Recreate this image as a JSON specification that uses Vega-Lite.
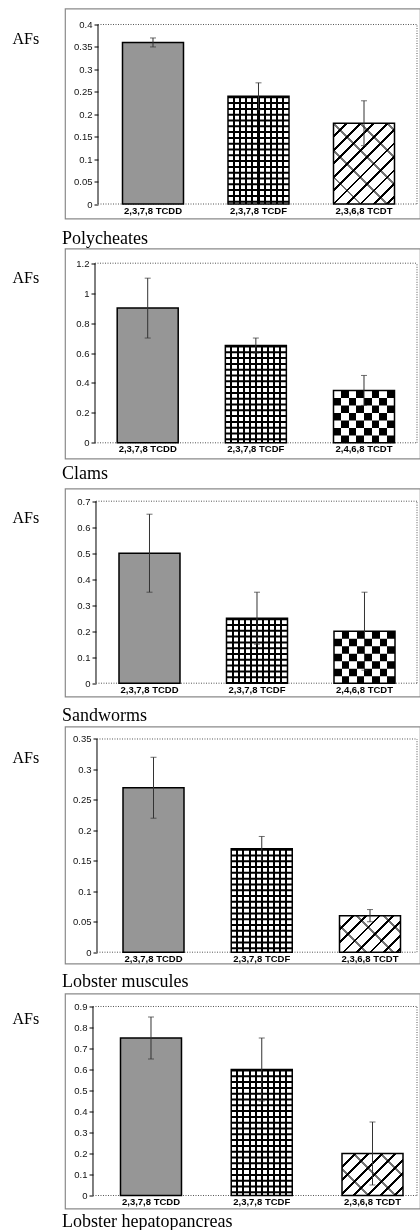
{
"$schema": "https://vega.github.io/schema/vega-lite/v6.json",
"background": "white",
"padding": {"left": 11, "top": 7.5, "right": 0, "bottom": 0},
"bounds": "flush",
"spacing": 30,
"datasets": {"afs": [
{"panel": "Polycheates", "compound": "2,3,7,8 TCDD", "af": 0.36, "lo": 0.35, "hi": 0.37},
{"panel": "Polycheates", "compound": "2,3,7,8 TCDF", "af": 0.24, "lo": 0.21, "hi": 0.27},
{"panel": "Polycheates", "compound": "2,3,6,8 TCDT", "af": 0.18, "lo": 0.13, "hi": 0.23},
{"panel": "Clams", "compound": "2,3,7,8 TCDD", "af": 0.9, "lo": 0.7, "hi": 1.1},
{"panel": "Clams", "compound": "2,3,7,8 TCDF", "af": 0.65, "lo": 0.6, "hi": 0.7},
{"panel": "Clams", "compound": "2,4,6,8 TCDT", "af": 0.35, "lo": 0.25, "hi": 0.45},
{"panel": "Sandworms", "compound": "2,3,7,8 TCDD", "af": 0.5, "lo": 0.35, "hi": 0.65},
{"panel": "Sandworms", "compound": "2,3,7,8 TCDF", "af": 0.25, "lo": 0.15, "hi": 0.35},
{"panel": "Sandworms", "compound": "2,4,6,8 TCDT", "af": 0.2, "lo": 0.05, "hi": 0.35},
{"panel": "Lobster muscules", "compound": "2,3,7,8 TCDD", "af": 0.27, "lo": 0.22, "hi": 0.32},
{"panel": "Lobster muscules", "compound": "2,3,7,8 TCDF", "af": 0.17, "lo": 0.15, "hi": 0.19},
{"panel": "Lobster muscules", "compound": "2,3,6,8 TCDT", "af": 0.06, "lo": 0.05, "hi": 0.07},
{"panel": "Lobster hepatopancreas", "compound": "2,3,7,8 TCDD", "af": 0.75, "lo": 0.65, "hi": 0.85},
{"panel": "Lobster hepatopancreas", "compound": "2,3,7,8 TCDF", "af": 0.6, "lo": 0.45, "hi": 0.75},
{"panel": "Lobster hepatopancreas", "compound": "2,3,6,8 TCDT", "af": 0.2, "lo": 0.05, "hi": 0.35}
]},
"config": {
"view": {"stroke": "#8a8a8a", "strokeWidth": 1.2},
"title": {"font": "Liberation Serif", "fontSize": 18, "fontWeight": "normal", "color": "#000", "orient": "bottom", "anchor": "start", "frame": "group", "baseline": "alphabetic", "dx": -3},
"axis": {"domain": false, "grid": false, "labelFont": "Liberation Sans"},
"axisY": {"labelFontSize": 9.5, "labelColor": "#111", "labelOverlap": false, "tickCount": 30, "tickColor": "#000", "tickSize": 4, "tickWidth": 1, "labelPadding": 2, "titleFont": "Liberation Serif", "titleFontSize": 16, "titleFontWeight": "normal", "titleAngle": 0, "titleAlign": "left", "titleBaseline": "alphabetic", "titleColor": "#000"},
"axisX": {"labelFontSize": 9.5, "labelFontWeight": "bold", "labelColor": "#000", "labelOverlap": false, "ticks": false, "tickSize": 0, "labelPadding": 1, "labelAngle": 0, "zindex": 1}
},
"vconcat": [
{
"width": 355, "height": 210,
"title": {"text": "Polycheates", "offset": -4.8},
"data": {"name": "afs"},
"transform": [{"filter": "datum.panel == 'Polycheates'"}],
"resolve": {"scale": {"x": "independent"}, "axis": {"x": "independent"}},
"layer": [
{"transform": [{"filter": "datum.compound == '2,3,7,8 TCDD'"}],
"layer": [
{"mark": {"type": "rule", "color": "#000", "strokeWidth": 1}, "encoding": {"x": {"datum": 0.09296, "type": "quantitative", "scale": {"domain": [0, 1]}, "axis": null}, "y": {"datum": 0, "type": "quantitative", "scale": {"domain": [-0.03231, 0.43565], "nice": false, "zero": false}, "axis": {"values": [0, 0.05, 0.1, 0.15, 0.2, 0.25, 0.3, 0.35, 0.4], "tickCount": 30, "format": "~g", "labelOverlap": false, "offset": -33, "title": "AFs", "titleX": -86, "titleY": 35}}, "y2": {"datum": 0.4}}},
{"mark": {"type": "rule", "color": "#555", "strokeWidth": 1, "strokeDash": [1, 1.5]}, "encoding": {"x": {"datum": 0.09296, "type": "quantitative", "scale": {"domain": [0, 1]}, "axis": null}, "x2": {"datum": 0.99155}, "y": {"datum": 0.4, "type": "quantitative"}}},
{"mark": {"type": "rule", "color": "#555", "strokeWidth": 1, "strokeDash": [1, 1.5]}, "encoding": {"x": {"datum": 0.09296, "type": "quantitative", "scale": {"domain": [0, 1]}, "axis": null}, "x2": {"datum": 0.99155}, "y": {"datum": 0, "type": "quantitative"}}},
{"mark": {"type": "rule", "color": "#555", "strokeWidth": 1, "strokeDash": [1, 1.5]}, "encoding": {"x": {"datum": 0.99155, "type": "quantitative", "scale": {"domain": [0, 1]}, "axis": null}, "y": {"datum": 0, "type": "quantitative"}, "y2": {"datum": 0.4}}}
]},
{"encoding": {
"x": {"field": "compound", "type": "nominal", "scale": {"domain": ["2,3,7,8 TCDD", "2,3,7,8 TCDF", "2,3,6,8 TCDT"], "paddingInner": 0.4218, "paddingOuter": 0.39336, "align": 0.69277}, "axis": {"offset": -14.5, "title": null}},
"y": {"field": "af", "type": "quantitative", "scale": {"domain": [-0.03231, 0.43565], "nice": false, "zero": false}, "axis": {"values": [0, 0.05, 0.1, 0.15, 0.2, 0.25, 0.3, 0.35, 0.4], "tickCount": 30, "format": "~g", "labelOverlap": false, "offset": -33, "title": "AFs", "titleX": -86, "titleY": 35}}
},
"layer": [
{"transform": [{"filter": "datum.compound == '2,3,7,8 TCDD'"}], "mark": {"type": "bar", "fill": "#969696"}, "encoding": {"y2": {"datum": 0}}},
{"transform": [{"filter": "datum.compound == '2,3,7,8 TCDF'"}], "mark": {"type": "bar", "fill": {"gradient": "linear", "x1": 0, "y1": 0, "x2": 1, "y2": 0, "stops": [{"offset":0,"color":"#fff"},{"offset":0.0835,"color":"#fff"},{"offset":0.0835,"color":"#000"},{"offset":0.1165,"color":"#000"},{"offset":0.1165,"color":"#fff"},{"offset":0.1835,"color":"#fff"},{"offset":0.1835,"color":"#000"},{"offset":0.2165,"color":"#000"},{"offset":0.2165,"color":"#fff"},{"offset":0.2835,"color":"#fff"},{"offset":0.2835,"color":"#000"},{"offset":0.3165,"color":"#000"},{"offset":0.3165,"color":"#fff"},{"offset":0.3835,"color":"#fff"},{"offset":0.3835,"color":"#000"},{"offset":0.4165,"color":"#000"},{"offset":0.4165,"color":"#fff"},{"offset":0.4835,"color":"#fff"},{"offset":0.4835,"color":"#000"},{"offset":0.5165,"color":"#000"},{"offset":0.5165,"color":"#fff"},{"offset":0.5835,"color":"#fff"},{"offset":0.5835,"color":"#000"},{"offset":0.6165,"color":"#000"},{"offset":0.6165,"color":"#fff"},{"offset":0.6835,"color":"#fff"},{"offset":0.6835,"color":"#000"},{"offset":0.7165,"color":"#000"},{"offset":0.7165,"color":"#fff"},{"offset":0.7835,"color":"#fff"},{"offset":0.7835,"color":"#000"},{"offset":0.8165,"color":"#000"},{"offset":0.8165,"color":"#fff"},{"offset":0.8835,"color":"#fff"},{"offset":0.8835,"color":"#000"},{"offset":0.9165,"color":"#000"},{"offset":0.9165,"color":"#fff"},{"offset":1,"color":"#fff"}]}}, "encoding": {"y2": {"datum": 0}}},
{"transform": [{"filter": "datum.compound == '2,3,7,8 TCDF'"}], "mark": {"type": "rule", "color": "#000", "strokeWidth": 61, "strokeCap": "butt", "strokeDash": [2, 3.8]}, "encoding": {"y2": {"datum": 0}}},
{"transform": [{"filter": "indexof(datum.compound, 'TCDT') >= 0"}], "mark": {"type": "bar", "fill": {"gradient": "linear", "x1": 0, "y1": 0, "x2": 0.8439, "y2": 1.1178, "stops": [{"offset":0,"color":"#fff"},{"offset":0.085,"color":"#fff"},{"offset":0.085,"color":"#000"},{"offset":0.105,"color":"#000"},{"offset":0.105,"color":"#fff"},{"offset":0.18,"color":"#fff"},{"offset":0.18,"color":"#000"},{"offset":0.2,"color":"#000"},{"offset":0.2,"color":"#fff"},{"offset":0.275,"color":"#fff"},{"offset":0.275,"color":"#000"},{"offset":0.295,"color":"#000"},{"offset":0.295,"color":"#fff"},{"offset":0.37,"color":"#fff"},{"offset":0.37,"color":"#000"},{"offset":0.39,"color":"#000"},{"offset":0.39,"color":"#fff"},{"offset":0.465,"color":"#fff"},{"offset":0.465,"color":"#000"},{"offset":0.485,"color":"#000"},{"offset":0.485,"color":"#fff"},{"offset":0.56,"color":"#fff"},{"offset":0.56,"color":"#000"},{"offset":0.58,"color":"#000"},{"offset":0.58,"color":"#fff"},{"offset":0.655,"color":"#fff"},{"offset":0.655,"color":"#000"},{"offset":0.675,"color":"#000"},{"offset":0.675,"color":"#fff"},{"offset":0.75,"color":"#fff"},{"offset":0.75,"color":"#000"},{"offset":0.77,"color":"#000"},{"offset":0.77,"color":"#fff"},{"offset":0.845,"color":"#fff"},{"offset":0.845,"color":"#000"},{"offset":0.865,"color":"#000"},{"offset":0.865,"color":"#fff"},{"offset":0.94,"color":"#fff"},{"offset":0.94,"color":"#000"},{"offset":0.96,"color":"#000"},{"offset":0.96,"color":"#fff"},{"offset":1,"color":"#fff"}]}}, "encoding": {"y2": {"datum": 0}}},
{"transform": [{"filter": "indexof(datum.compound, 'TCDT') >= 0"}], "mark": {"type": "bar", "opacity": 0.55, "fill": {"gradient": "linear", "x1": 0, "y1": 1, "x2": 0.8439, "y2": -0.1178, "stops": [{"offset":0,"color":"rgba(0,0,0,0)"},{"offset":0.18,"color":"rgba(0,0,0,0)"},{"offset":0.18,"color":"#000"},{"offset":0.2,"color":"#000"},{"offset":0.2,"color":"rgba(0,0,0,0)"},{"offset":0.37,"color":"rgba(0,0,0,0)"},{"offset":0.37,"color":"#000"},{"offset":0.39,"color":"#000"},{"offset":0.39,"color":"rgba(0,0,0,0)"},{"offset":0.56,"color":"rgba(0,0,0,0)"},{"offset":0.56,"color":"#000"},{"offset":0.58,"color":"#000"},{"offset":0.58,"color":"rgba(0,0,0,0)"},{"offset":0.75,"color":"rgba(0,0,0,0)"},{"offset":0.75,"color":"#000"},{"offset":0.77,"color":"#000"},{"offset":0.77,"color":"rgba(0,0,0,0)"},{"offset":0.94,"color":"rgba(0,0,0,0)"},{"offset":0.94,"color":"#000"},{"offset":0.96,"color":"#000"},{"offset":0.96,"color":"rgba(0,0,0,0)"},{"offset":1,"color":"rgba(0,0,0,0)"}]}}, "encoding": {"y2": {"datum": 0}}},
{"mark": {"type": "bar", "fillOpacity": 0, "stroke": "#000", "strokeWidth": 1.5}, "encoding": {"y2": {"datum": 0}}},
{"mark": {"type": "rule", "color": "#333", "strokeWidth": 1}, "encoding": {"y": {"field": "lo", "type": "quantitative"}, "y2": {"field": "hi"}}},
{"mark": {"type": "tick", "color": "#333", "size": 6, "thickness": 1}, "encoding": {"y": {"field": "lo", "type": "quantitative"}}},
{"mark": {"type": "tick", "color": "#333", "size": 6, "thickness": 1}, "encoding": {"y": {"field": "hi", "type": "quantitative"}}}
]}
]
},
{
"width": 355, "height": 210,
"title": {"text": "Clams", "offset": -8},
"data": {"name": "afs"},
"transform": [{"filter": "datum.panel == 'Clams'"}],
"resolve": {"scale": {"x": "independent"}, "axis": {"x": "independent"}},
"layer": [
{"transform": [{"filter": "datum.compound == '2,3,7,8 TCDD'"}],
"layer": [
{"mark": {"type": "rule", "color": "#000", "strokeWidth": 1}, "encoding": {"x": {"datum": 0.08451, "type": "quantitative", "scale": {"domain": [0, 1]}, "axis": null}, "y": {"datum": 0, "type": "quantitative", "scale": {"domain": [-0.1049, 1.29822], "nice": false, "zero": false}, "axis": {"values": [0, 0.2, 0.4, 0.6, 0.8, 1, 1.2], "tickCount": 30, "format": "~g", "labelOverlap": false, "offset": -30, "title": "AFs", "titleX": -83, "titleY": 34}}, "y2": {"datum": 1.2}}},
{"mark": {"type": "rule", "color": "#555", "strokeWidth": 1, "strokeDash": [1, 1.5]}, "encoding": {"x": {"datum": 0.08451, "type": "quantitative", "scale": {"domain": [0, 1]}, "axis": null}, "x2": {"datum": 0.99155}, "y": {"datum": 1.2, "type": "quantitative"}}},
{"mark": {"type": "rule", "color": "#555", "strokeWidth": 1, "strokeDash": [1, 1.5]}, "encoding": {"x": {"datum": 0.08451, "type": "quantitative", "scale": {"domain": [0, 1]}, "axis": null}, "x2": {"datum": 0.99155}, "y": {"datum": 0, "type": "quantitative"}}},
{"mark": {"type": "rule", "color": "#555", "strokeWidth": 1, "strokeDash": [1, 1.5]}, "encoding": {"x": {"datum": 0.99155, "type": "quantitative", "scale": {"domain": [0, 1]}, "axis": null}, "y": {"datum": 0, "type": "quantitative"}, "y2": {"datum": 1.2}}}
]},
{"encoding": {
"x": {"field": "compound", "type": "nominal", "scale": {"domain": ["2,3,7,8 TCDD", "2,3,7,8 TCDF", "2,4,6,8 TCDT"], "paddingInner": 0.43597, "paddingOuter": 0.35922, "align": 0.67181}, "axis": {"offset": -15.7, "title": null}},
"y": {"field": "af", "type": "quantitative", "scale": {"domain": [-0.1049, 1.29822], "nice": false, "zero": false}, "axis": {"values": [0, 0.2, 0.4, 0.6, 0.8, 1, 1.2], "tickCount": 30, "format": "~g", "labelOverlap": false, "offset": -30, "title": "AFs", "titleX": -83, "titleY": 34}}
},
"layer": [
{"transform": [{"filter": "datum.compound == '2,3,7,8 TCDD'"}], "mark": {"type": "bar", "fill": "#969696"}, "encoding": {"y2": {"datum": 0}}},
{"transform": [{"filter": "datum.compound == '2,3,7,8 TCDF'"}], "mark": {"type": "bar", "fill": {"gradient": "linear", "x1": 0, "y1": 0, "x2": 1, "y2": 0, "stops": [{"offset":0,"color":"#fff"},{"offset":0.0835,"color":"#fff"},{"offset":0.0835,"color":"#000"},{"offset":0.1165,"color":"#000"},{"offset":0.1165,"color":"#fff"},{"offset":0.1835,"color":"#fff"},{"offset":0.1835,"color":"#000"},{"offset":0.2165,"color":"#000"},{"offset":0.2165,"color":"#fff"},{"offset":0.2835,"color":"#fff"},{"offset":0.2835,"color":"#000"},{"offset":0.3165,"color":"#000"},{"offset":0.3165,"color":"#fff"},{"offset":0.3835,"color":"#fff"},{"offset":0.3835,"color":"#000"},{"offset":0.4165,"color":"#000"},{"offset":0.4165,"color":"#fff"},{"offset":0.4835,"color":"#fff"},{"offset":0.4835,"color":"#000"},{"offset":0.5165,"color":"#000"},{"offset":0.5165,"color":"#fff"},{"offset":0.5835,"color":"#fff"},{"offset":0.5835,"color":"#000"},{"offset":0.6165,"color":"#000"},{"offset":0.6165,"color":"#fff"},{"offset":0.6835,"color":"#fff"},{"offset":0.6835,"color":"#000"},{"offset":0.7165,"color":"#000"},{"offset":0.7165,"color":"#fff"},{"offset":0.7835,"color":"#fff"},{"offset":0.7835,"color":"#000"},{"offset":0.8165,"color":"#000"},{"offset":0.8165,"color":"#fff"},{"offset":0.8835,"color":"#fff"},{"offset":0.8835,"color":"#000"},{"offset":0.9165,"color":"#000"},{"offset":0.9165,"color":"#fff"},{"offset":1,"color":"#fff"}]}}, "encoding": {"y2": {"datum": 0}}},
{"transform": [{"filter": "datum.compound == '2,3,7,8 TCDF'"}], "mark": {"type": "rule", "color": "#000", "strokeWidth": 61, "strokeCap": "butt", "strokeDash": [2, 3.8]}, "encoding": {"y2": {"datum": 0}}},
{"transform": [{"filter": "indexof(datum.compound, 'TCDT') >= 0"}], "mark": {"type": "bar", "fill": {"gradient": "linear", "x1": 0, "y1": 0, "x2": 1, "y2": 0, "stops": [{"offset":0,"color":"#000"},{"offset":0.125,"color":"#000"},{"offset":0.125,"color":"#fff"},{"offset":0.25,"color":"#fff"},{"offset":0.25,"color":"#000"},{"offset":0.375,"color":"#000"},{"offset":0.375,"color":"#fff"},{"offset":0.5,"color":"#fff"},{"offset":0.5,"color":"#000"},{"offset":0.625,"color":"#000"},{"offset":0.625,"color":"#fff"},{"offset":0.75,"color":"#fff"},{"offset":0.75,"color":"#000"},{"offset":0.875,"color":"#000"},{"offset":0.875,"color":"#fff"},{"offset":1,"color":"#fff"}]}}, "encoding": {"y2": {"datum": 0}}},
{"transform": [{"filter": "indexof(datum.compound, 'TCDT') >= 0"}], "mark": {"type": "rule", "color": "#fff", "strokeWidth": 61, "strokeCap": "butt", "strokeDash": [7.5, 7.5], "blend": "difference"}, "encoding": {"y2": {"datum": 0}}},
{"mark": {"type": "bar", "fillOpacity": 0, "stroke": "#000", "strokeWidth": 1.5}, "encoding": {"y2": {"datum": 0}}},
{"mark": {"type": "rule", "color": "#333", "strokeWidth": 1}, "encoding": {"y": {"field": "lo", "type": "quantitative"}, "y2": {"field": "hi"}}},
{"mark": {"type": "tick", "color": "#333", "size": 6, "thickness": 1}, "encoding": {"y": {"field": "lo", "type": "quantitative"}}},
{"mark": {"type": "tick", "color": "#333", "size": 6, "thickness": 1}, "encoding": {"y": {"field": "hi", "type": "quantitative"}}}
]}
]
},
{
"width": 355, "height": 208,
"title": {"text": "Sandworms", "offset": -6.7},
"data": {"name": "afs"},
"transform": [{"filter": "datum.panel == 'Sandworms'"}],
"resolve": {"scale": {"x": "independent"}, "axis": {"x": "independent"}},
"layer": [
{"transform": [{"filter": "datum.compound == '2,3,7,8 TCDD'"}],
"layer": [
{"mark": {"type": "rule", "color": "#000", "strokeWidth": 1}, "encoding": {"x": {"datum": 0.08732, "type": "quantitative", "scale": {"domain": [0, 1]}, "axis": null}, "y": {"datum": 0, "type": "quantitative", "scale": {"domain": [-0.05115, 0.74885], "nice": false, "zero": false}, "axis": {"values": [0, 0.1, 0.2, 0.3, 0.4, 0.5, 0.6, 0.7], "tickCount": 30, "format": "~g", "labelOverlap": false, "offset": -31, "title": "AFs", "titleX": -84, "titleY": 34}}, "y2": {"datum": 0.7}}},
{"mark": {"type": "rule", "color": "#555", "strokeWidth": 1, "strokeDash": [1, 1.5]}, "encoding": {"x": {"datum": 0.08732, "type": "quantitative", "scale": {"domain": [0, 1]}, "axis": null}, "x2": {"datum": 0.99155}, "y": {"datum": 0.7, "type": "quantitative"}}},
{"mark": {"type": "rule", "color": "#555", "strokeWidth": 1, "strokeDash": [1, 1.5]}, "encoding": {"x": {"datum": 0.08732, "type": "quantitative", "scale": {"domain": [0, 1]}, "axis": null}, "x2": {"datum": 0.99155}, "y": {"datum": 0, "type": "quantitative"}}},
{"mark": {"type": "rule", "color": "#555", "strokeWidth": 1, "strokeDash": [1, 1.5]}, "encoding": {"x": {"datum": 0.99155, "type": "quantitative", "scale": {"domain": [0, 1]}, "axis": null}, "y": {"datum": 0, "type": "quantitative"}, "y2": {"datum": 0.7}}}
]},
{"encoding": {
"x": {"field": "compound", "type": "nominal", "scale": {"domain": ["2,3,7,8 TCDD", "2,3,7,8 TCDF", "2,4,6,8 TCDT"], "paddingInner": 0.43256, "paddingOuter": 0.36744, "align": 0.68354}, "axis": {"offset": -13.3, "title": null}},
"y": {"field": "af", "type": "quantitative", "scale": {"domain": [-0.05115, 0.74885], "nice": false, "zero": false}, "axis": {"values": [0, 0.1, 0.2, 0.3, 0.4, 0.5, 0.6, 0.7], "tickCount": 30, "format": "~g", "labelOverlap": false, "offset": -31, "title": "AFs", "titleX": -84, "titleY": 34}}
},
"layer": [
{"transform": [{"filter": "datum.compound == '2,3,7,8 TCDD'"}], "mark": {"type": "bar", "fill": "#969696"}, "encoding": {"y2": {"datum": 0}}},
{"transform": [{"filter": "datum.compound == '2,3,7,8 TCDF'"}], "mark": {"type": "bar", "fill": {"gradient": "linear", "x1": 0, "y1": 0, "x2": 1, "y2": 0, "stops": [{"offset":0,"color":"#fff"},{"offset":0.0835,"color":"#fff"},{"offset":0.0835,"color":"#000"},{"offset":0.1165,"color":"#000"},{"offset":0.1165,"color":"#fff"},{"offset":0.1835,"color":"#fff"},{"offset":0.1835,"color":"#000"},{"offset":0.2165,"color":"#000"},{"offset":0.2165,"color":"#fff"},{"offset":0.2835,"color":"#fff"},{"offset":0.2835,"color":"#000"},{"offset":0.3165,"color":"#000"},{"offset":0.3165,"color":"#fff"},{"offset":0.3835,"color":"#fff"},{"offset":0.3835,"color":"#000"},{"offset":0.4165,"color":"#000"},{"offset":0.4165,"color":"#fff"},{"offset":0.4835,"color":"#fff"},{"offset":0.4835,"color":"#000"},{"offset":0.5165,"color":"#000"},{"offset":0.5165,"color":"#fff"},{"offset":0.5835,"color":"#fff"},{"offset":0.5835,"color":"#000"},{"offset":0.6165,"color":"#000"},{"offset":0.6165,"color":"#fff"},{"offset":0.6835,"color":"#fff"},{"offset":0.6835,"color":"#000"},{"offset":0.7165,"color":"#000"},{"offset":0.7165,"color":"#fff"},{"offset":0.7835,"color":"#fff"},{"offset":0.7835,"color":"#000"},{"offset":0.8165,"color":"#000"},{"offset":0.8165,"color":"#fff"},{"offset":0.8835,"color":"#fff"},{"offset":0.8835,"color":"#000"},{"offset":0.9165,"color":"#000"},{"offset":0.9165,"color":"#fff"},{"offset":1,"color":"#fff"}]}}, "encoding": {"y2": {"datum": 0}}},
{"transform": [{"filter": "datum.compound == '2,3,7,8 TCDF'"}], "mark": {"type": "rule", "color": "#000", "strokeWidth": 61, "strokeCap": "butt", "strokeDash": [2, 3.8]}, "encoding": {"y2": {"datum": 0}}},
{"transform": [{"filter": "indexof(datum.compound, 'TCDT') >= 0"}], "mark": {"type": "bar", "fill": {"gradient": "linear", "x1": 0, "y1": 0, "x2": 1, "y2": 0, "stops": [{"offset":0,"color":"#000"},{"offset":0.125,"color":"#000"},{"offset":0.125,"color":"#fff"},{"offset":0.25,"color":"#fff"},{"offset":0.25,"color":"#000"},{"offset":0.375,"color":"#000"},{"offset":0.375,"color":"#fff"},{"offset":0.5,"color":"#fff"},{"offset":0.5,"color":"#000"},{"offset":0.625,"color":"#000"},{"offset":0.625,"color":"#fff"},{"offset":0.75,"color":"#fff"},{"offset":0.75,"color":"#000"},{"offset":0.875,"color":"#000"},{"offset":0.875,"color":"#fff"},{"offset":1,"color":"#fff"}]}}, "encoding": {"y2": {"datum": 0}}},
{"transform": [{"filter": "indexof(datum.compound, 'TCDT') >= 0"}], "mark": {"type": "rule", "color": "#fff", "strokeWidth": 61, "strokeCap": "butt", "strokeDash": [7.5, 7.5], "blend": "difference"}, "encoding": {"y2": {"datum": 0}}},
{"mark": {"type": "bar", "fillOpacity": 0, "stroke": "#000", "strokeWidth": 1.5}, "encoding": {"y2": {"datum": 0}}},
{"mark": {"type": "rule", "color": "#333", "strokeWidth": 1}, "encoding": {"y": {"field": "lo", "type": "quantitative"}, "y2": {"field": "hi"}}},
{"mark": {"type": "tick", "color": "#333", "size": 6, "thickness": 1}, "encoding": {"y": {"field": "lo", "type": "quantitative"}}},
{"mark": {"type": "tick", "color": "#333", "size": 6, "thickness": 1}, "encoding": {"y": {"field": "hi", "type": "quantitative"}}}
]}
]
},
{
"width": 355, "height": 237,
"title": {"text": "Lobster muscules", "offset": -9.7},
"data": {"name": "afs"},
"transform": [{"filter": "datum.panel == 'Lobster muscules'"}],
"resolve": {"scale": {"x": "independent"}, "axis": {"x": "independent"}},
"layer": [
{"transform": [{"filter": "datum.compound == '2,3,7,8 TCDD'"}],
"layer": [
{"mark": {"type": "rule", "color": "#000", "strokeWidth": 1}, "encoding": {"x": {"datum": 0.09014, "type": "quantitative", "scale": {"domain": [0, 1]}, "axis": null}, "y": {"datum": 0, "type": "quantitative", "scale": {"domain": [-0.01855, 0.37052], "nice": false, "zero": false}, "axis": {"values": [0, 0.05, 0.1, 0.15, 0.2, 0.25, 0.3, 0.35], "tickCount": 30, "format": "~g", "labelOverlap": false, "offset": -32, "title": "AFs", "titleX": -85, "titleY": 36}}, "y2": {"datum": 0.35}}},
{"mark": {"type": "rule", "color": "#555", "strokeWidth": 1, "strokeDash": [1, 1.5]}, "encoding": {"x": {"datum": 0.09014, "type": "quantitative", "scale": {"domain": [0, 1]}, "axis": null}, "x2": {"datum": 0.99155}, "y": {"datum": 0.35, "type": "quantitative"}}},
{"mark": {"type": "rule", "color": "#555", "strokeWidth": 1, "strokeDash": [1, 1.5]}, "encoding": {"x": {"datum": 0.09014, "type": "quantitative", "scale": {"domain": [0, 1]}, "axis": null}, "x2": {"datum": 0.99155}, "y": {"datum": 0, "type": "quantitative"}}},
{"mark": {"type": "rule", "color": "#555", "strokeWidth": 1, "strokeDash": [1, 1.5]}, "encoding": {"x": {"datum": 0.99155, "type": "quantitative", "scale": {"domain": [0, 1]}, "axis": null}, "y": {"datum": 0, "type": "quantitative"}, "y2": {"datum": 0.35}}}
]},
{"encoding": {
"x": {"field": "compound", "type": "nominal", "scale": {"domain": ["2,3,7,8 TCDD", "2,3,7,8 TCDF", "2,3,6,8 TCDT"], "paddingInner": 0.43649, "paddingOuter": 0.35797, "align": 0.74839}, "axis": {"offset": -11.3, "title": null}},
"y": {"field": "af", "type": "quantitative", "scale": {"domain": [-0.01855, 0.37052], "nice": false, "zero": false}, "axis": {"values": [0, 0.05, 0.1, 0.15, 0.2, 0.25, 0.3, 0.35], "tickCount": 30, "format": "~g", "labelOverlap": false, "offset": -32, "title": "AFs", "titleX": -85, "titleY": 36}}
},
"layer": [
{"transform": [{"filter": "datum.compound == '2,3,7,8 TCDD'"}], "mark": {"type": "bar", "fill": "#969696"}, "encoding": {"y2": {"datum": 0}}},
{"transform": [{"filter": "datum.compound == '2,3,7,8 TCDF'"}], "mark": {"type": "bar", "fill": {"gradient": "linear", "x1": 0, "y1": 0, "x2": 1, "y2": 0, "stops": [{"offset":0,"color":"#fff"},{"offset":0.0835,"color":"#fff"},{"offset":0.0835,"color":"#000"},{"offset":0.1165,"color":"#000"},{"offset":0.1165,"color":"#fff"},{"offset":0.1835,"color":"#fff"},{"offset":0.1835,"color":"#000"},{"offset":0.2165,"color":"#000"},{"offset":0.2165,"color":"#fff"},{"offset":0.2835,"color":"#fff"},{"offset":0.2835,"color":"#000"},{"offset":0.3165,"color":"#000"},{"offset":0.3165,"color":"#fff"},{"offset":0.3835,"color":"#fff"},{"offset":0.3835,"color":"#000"},{"offset":0.4165,"color":"#000"},{"offset":0.4165,"color":"#fff"},{"offset":0.4835,"color":"#fff"},{"offset":0.4835,"color":"#000"},{"offset":0.5165,"color":"#000"},{"offset":0.5165,"color":"#fff"},{"offset":0.5835,"color":"#fff"},{"offset":0.5835,"color":"#000"},{"offset":0.6165,"color":"#000"},{"offset":0.6165,"color":"#fff"},{"offset":0.6835,"color":"#fff"},{"offset":0.6835,"color":"#000"},{"offset":0.7165,"color":"#000"},{"offset":0.7165,"color":"#fff"},{"offset":0.7835,"color":"#fff"},{"offset":0.7835,"color":"#000"},{"offset":0.8165,"color":"#000"},{"offset":0.8165,"color":"#fff"},{"offset":0.8835,"color":"#fff"},{"offset":0.8835,"color":"#000"},{"offset":0.9165,"color":"#000"},{"offset":0.9165,"color":"#fff"},{"offset":1,"color":"#fff"}]}}, "encoding": {"y2": {"datum": 0}}},
{"transform": [{"filter": "datum.compound == '2,3,7,8 TCDF'"}], "mark": {"type": "rule", "color": "#000", "strokeWidth": 61, "strokeCap": "butt", "strokeDash": [2, 3.8]}, "encoding": {"y2": {"datum": 0}}},
{"transform": [{"filter": "indexof(datum.compound, 'TCDT') >= 0"}], "mark": {"type": "bar", "fill": {"gradient": "linear", "x1": 0, "y1": 0, "x2": 1.177, "y2": 0.7043, "stops": [{"offset":0,"color":"#fff"},{"offset":0.1234,"color":"#fff"},{"offset":0.1234,"color":"#000"},{"offset":0.1524,"color":"#000"},{"offset":0.1524,"color":"#fff"},{"offset":0.2613,"color":"#fff"},{"offset":0.2613,"color":"#000"},{"offset":0.2903,"color":"#000"},{"offset":0.2903,"color":"#fff"},{"offset":0.3992,"color":"#fff"},{"offset":0.3992,"color":"#000"},{"offset":0.4282,"color":"#000"},{"offset":0.4282,"color":"#fff"},{"offset":0.5371,"color":"#fff"},{"offset":0.5371,"color":"#000"},{"offset":0.5661,"color":"#000"},{"offset":0.5661,"color":"#fff"},{"offset":0.675,"color":"#fff"},{"offset":0.675,"color":"#000"},{"offset":0.704,"color":"#000"},{"offset":0.704,"color":"#fff"},{"offset":0.8129,"color":"#fff"},{"offset":0.8129,"color":"#000"},{"offset":0.8419,"color":"#000"},{"offset":0.8419,"color":"#fff"},{"offset":0.9508,"color":"#fff"},{"offset":0.9508,"color":"#000"},{"offset":0.9798,"color":"#000"},{"offset":0.9798,"color":"#fff"},{"offset":1,"color":"#fff"}]}}, "encoding": {"y2": {"datum": 0}}},
{"transform": [{"filter": "indexof(datum.compound, 'TCDT') >= 0"}], "mark": {"type": "bar", "opacity": 0.55, "fill": {"gradient": "linear", "x1": 0, "y1": 1, "x2": 1.177, "y2": 0.2957, "stops": [{"offset":0,"color":"rgba(0,0,0,0)"},{"offset":0.2613,"color":"rgba(0,0,0,0)"},{"offset":0.2613,"color":"#000"},{"offset":0.2903,"color":"#000"},{"offset":0.2903,"color":"rgba(0,0,0,0)"},{"offset":0.5371,"color":"rgba(0,0,0,0)"},{"offset":0.5371,"color":"#000"},{"offset":0.5661,"color":"#000"},{"offset":0.5661,"color":"rgba(0,0,0,0)"},{"offset":0.8129,"color":"rgba(0,0,0,0)"},{"offset":0.8129,"color":"#000"},{"offset":0.8419,"color":"#000"},{"offset":0.8419,"color":"rgba(0,0,0,0)"},{"offset":1,"color":"rgba(0,0,0,0)"}]}}, "encoding": {"y2": {"datum": 0}}},
{"mark": {"type": "bar", "fillOpacity": 0, "stroke": "#000", "strokeWidth": 1.5}, "encoding": {"y2": {"datum": 0}}},
{"mark": {"type": "rule", "color": "#333", "strokeWidth": 1}, "encoding": {"y": {"field": "lo", "type": "quantitative"}, "y2": {"field": "hi"}}},
{"mark": {"type": "tick", "color": "#333", "size": 6, "thickness": 1}, "encoding": {"y": {"field": "lo", "type": "quantitative"}}},
{"mark": {"type": "tick", "color": "#333", "size": 6, "thickness": 1}, "encoding": {"y": {"field": "hi", "type": "quantitative"}}}
]}
]
},
{
"width": 355, "height": 215,
"title": {"text": "Lobster hepatopancreas", "offset": -13.5},
"data": {"name": "afs"},
"transform": [{"filter": "datum.panel == 'Lobster hepatopancreas'"}],
"resolve": {"scale": {"x": "independent"}, "axis": {"x": "independent"}},
"layer": [
{"transform": [{"filter": "datum.compound == '2,3,7,8 TCDD'"}],
"layer": [
{"mark": {"type": "rule", "color": "#000", "strokeWidth": 1}, "encoding": {"x": {"datum": 0.07887, "type": "quantitative", "scale": {"domain": [0, 1]}, "axis": null}, "y": {"datum": 0, "type": "quantitative", "scale": {"domain": [-0.0619, 0.9619], "nice": false, "zero": false}, "axis": {"values": [0, 0.1, 0.2, 0.3, 0.4, 0.5, 0.6, 0.7, 0.8, 0.9], "tickCount": 30, "format": "~g", "labelOverlap": false, "offset": -28, "title": "AFs", "titleX": -81, "titleY": 30}}, "y2": {"datum": 0.9}}},
{"mark": {"type": "rule", "color": "#555", "strokeWidth": 1, "strokeDash": [1, 1.5]}, "encoding": {"x": {"datum": 0.07887, "type": "quantitative", "scale": {"domain": [0, 1]}, "axis": null}, "x2": {"datum": 0.99155}, "y": {"datum": 0.9, "type": "quantitative"}}},
{"mark": {"type": "rule", "color": "#555", "strokeWidth": 1, "strokeDash": [1, 1.5]}, "encoding": {"x": {"datum": 0.07887, "type": "quantitative", "scale": {"domain": [0, 1]}, "axis": null}, "x2": {"datum": 0.99155}, "y": {"datum": 0, "type": "quantitative"}}},
{"mark": {"type": "rule", "color": "#555", "strokeWidth": 1, "strokeDash": [1, 1.5]}, "encoding": {"x": {"datum": 0.99155, "type": "quantitative", "scale": {"domain": [0, 1]}, "axis": null}, "y": {"datum": 0, "type": "quantitative"}, "y2": {"datum": 0.9}}}
]},
{"encoding": {
"x": {"field": "compound", "type": "nominal", "scale": {"domain": ["2,3,7,8 TCDD", "2,3,7,8 TCDF", "2,3,6,8 TCDT"], "paddingInner": 0.44921, "paddingOuter": 0.32731, "align": 0.76552}, "axis": {"offset": -13, "title": null}},
"y": {"field": "af", "type": "quantitative", "scale": {"domain": [-0.0619, 0.9619], "nice": false, "zero": false}, "axis": {"values": [0, 0.1, 0.2, 0.3, 0.4, 0.5, 0.6, 0.7, 0.8, 0.9], "tickCount": 30, "format": "~g", "labelOverlap": false, "offset": -28, "title": "AFs", "titleX": -81, "titleY": 30}}
},
"layer": [
{"transform": [{"filter": "datum.compound == '2,3,7,8 TCDD'"}], "mark": {"type": "bar", "fill": "#969696"}, "encoding": {"y2": {"datum": 0}}},
{"transform": [{"filter": "datum.compound == '2,3,7,8 TCDF'"}], "mark": {"type": "bar", "fill": {"gradient": "linear", "x1": 0, "y1": 0, "x2": 1, "y2": 0, "stops": [{"offset":0,"color":"#fff"},{"offset":0.0835,"color":"#fff"},{"offset":0.0835,"color":"#000"},{"offset":0.1165,"color":"#000"},{"offset":0.1165,"color":"#fff"},{"offset":0.1835,"color":"#fff"},{"offset":0.1835,"color":"#000"},{"offset":0.2165,"color":"#000"},{"offset":0.2165,"color":"#fff"},{"offset":0.2835,"color":"#fff"},{"offset":0.2835,"color":"#000"},{"offset":0.3165,"color":"#000"},{"offset":0.3165,"color":"#fff"},{"offset":0.3835,"color":"#fff"},{"offset":0.3835,"color":"#000"},{"offset":0.4165,"color":"#000"},{"offset":0.4165,"color":"#fff"},{"offset":0.4835,"color":"#fff"},{"offset":0.4835,"color":"#000"},{"offset":0.5165,"color":"#000"},{"offset":0.5165,"color":"#fff"},{"offset":0.5835,"color":"#fff"},{"offset":0.5835,"color":"#000"},{"offset":0.6165,"color":"#000"},{"offset":0.6165,"color":"#fff"},{"offset":0.6835,"color":"#fff"},{"offset":0.6835,"color":"#000"},{"offset":0.7165,"color":"#000"},{"offset":0.7165,"color":"#fff"},{"offset":0.7835,"color":"#fff"},{"offset":0.7835,"color":"#000"},{"offset":0.8165,"color":"#000"},{"offset":0.8165,"color":"#fff"},{"offset":0.8835,"color":"#fff"},{"offset":0.8835,"color":"#000"},{"offset":0.9165,"color":"#000"},{"offset":0.9165,"color":"#fff"},{"offset":1,"color":"#fff"}]}}, "encoding": {"y2": {"datum": 0}}},
{"transform": [{"filter": "datum.compound == '2,3,7,8 TCDF'"}], "mark": {"type": "rule", "color": "#000", "strokeWidth": 61, "strokeCap": "butt", "strokeDash": [2, 3.8]}, "encoding": {"y2": {"datum": 0}}},
{"transform": [{"filter": "indexof(datum.compound, 'TCDT') >= 0"}], "mark": {"type": "bar", "fill": {"gradient": "linear", "x1": 0, "y1": 0, "x2": 1.1455, "y2": 0.7887, "stops": [{"offset":0,"color":"#fff"},{"offset":0.1168,"color":"#fff"},{"offset":0.1168,"color":"#000"},{"offset":0.1443,"color":"#000"},{"offset":0.1443,"color":"#fff"},{"offset":0.2473,"color":"#fff"},{"offset":0.2473,"color":"#000"},{"offset":0.2748,"color":"#000"},{"offset":0.2748,"color":"#fff"},{"offset":0.3778,"color":"#fff"},{"offset":0.3778,"color":"#000"},{"offset":0.4053,"color":"#000"},{"offset":0.4053,"color":"#fff"},{"offset":0.5083,"color":"#fff"},{"offset":0.5083,"color":"#000"},{"offset":0.5358,"color":"#000"},{"offset":0.5358,"color":"#fff"},{"offset":0.6388,"color":"#fff"},{"offset":0.6388,"color":"#000"},{"offset":0.6663,"color":"#000"},{"offset":0.6663,"color":"#fff"},{"offset":0.7693,"color":"#fff"},{"offset":0.7693,"color":"#000"},{"offset":0.7968,"color":"#000"},{"offset":0.7968,"color":"#fff"},{"offset":0.8998,"color":"#fff"},{"offset":0.8998,"color":"#000"},{"offset":0.9273,"color":"#000"},{"offset":0.9273,"color":"#fff"},{"offset":1,"color":"#fff"}]}}, "encoding": {"y2": {"datum": 0}}},
{"transform": [{"filter": "indexof(datum.compound, 'TCDT') >= 0"}], "mark": {"type": "bar", "opacity": 0.55, "fill": {"gradient": "linear", "x1": 0, "y1": 1, "x2": 1.1455, "y2": 0.2113, "stops": [{"offset":0,"color":"rgba(0,0,0,0)"},{"offset":0.2473,"color":"rgba(0,0,0,0)"},{"offset":0.2473,"color":"#000"},{"offset":0.2748,"color":"#000"},{"offset":0.2748,"color":"rgba(0,0,0,0)"},{"offset":0.5083,"color":"rgba(0,0,0,0)"},{"offset":0.5083,"color":"#000"},{"offset":0.5358,"color":"#000"},{"offset":0.5358,"color":"rgba(0,0,0,0)"},{"offset":0.7693,"color":"rgba(0,0,0,0)"},{"offset":0.7693,"color":"#000"},{"offset":0.7968,"color":"#000"},{"offset":0.7968,"color":"rgba(0,0,0,0)"},{"offset":1,"color":"rgba(0,0,0,0)"}]}}, "encoding": {"y2": {"datum": 0}}},
{"mark": {"type": "bar", "fillOpacity": 0, "stroke": "#000", "strokeWidth": 1.5}, "encoding": {"y2": {"datum": 0}}},
{"mark": {"type": "rule", "color": "#333", "strokeWidth": 1}, "encoding": {"y": {"field": "lo", "type": "quantitative"}, "y2": {"field": "hi"}}},
{"mark": {"type": "tick", "color": "#333", "size": 6, "thickness": 1}, "encoding": {"y": {"field": "lo", "type": "quantitative"}}},
{"mark": {"type": "tick", "color": "#333", "size": 6, "thickness": 1}, "encoding": {"y": {"field": "hi", "type": "quantitative"}}}
]}
]
}
]
}
